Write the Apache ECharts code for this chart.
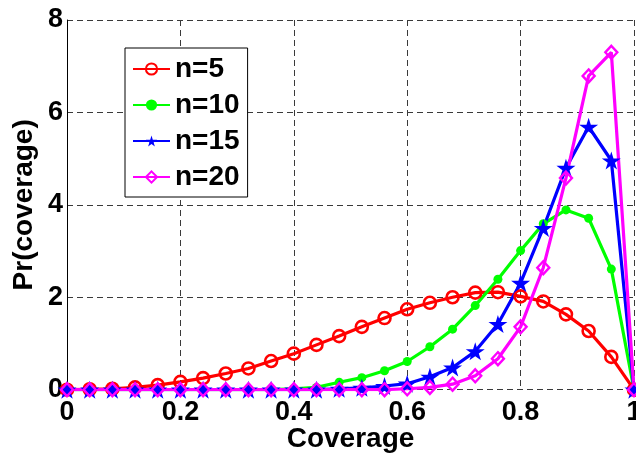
<!DOCTYPE html>
<html>
<head>
<meta charset="utf-8">
<script src="https://cdn.jsdelivr.net/npm/echarts@6/dist/echarts.min.js"></script>
<style>
  html, body { margin: 0; padding: 0; background: #fff; }
  #chart { width: 636px; height: 455px; }
</style>
</head>
<body>
<div id="chart"></div>
<script>
// Coverage grid (x) and probability density for each group size n
const coverage = [0, 0.04, 0.08, 0.12, 0.16, 0.20, 0.24, 0.28, 0.32, 0.36, 0.40, 0.44, 0.48,
                  0.52, 0.56, 0.60, 0.64, 0.68, 0.72, 0.76, 0.80, 0.84, 0.88, 0.92, 0.96, 1.00];
const prN5  = [0, 0.01, 0.02, 0.05, 0.10, 0.17, 0.25, 0.35, 0.46, 0.62, 0.78, 0.97, 1.16,
               1.36, 1.55, 1.74, 1.88, 2.00, 2.10, 2.11, 2.02, 1.91, 1.63, 1.27, 0.71, 0];
const prN10 = [0, 0, 0, 0, 0, 0, 0, 0, 0, 0, 0.02, 0.05, 0.16,
               0.26, 0.41, 0.61, 0.93, 1.31, 1.82, 2.39, 3.01, 3.59, 3.89, 3.71, 2.61, 0];
const prN15 = [0, 0, 0, 0, 0, 0, 0, 0, 0, 0, 0, 0, 0.02,
               0.04, 0.08, 0.13, 0.28, 0.48, 0.83, 1.42, 2.31, 3.50, 4.80, 5.69, 4.96, 0];
const prN20 = [0, 0, 0, 0, 0, 0, 0, 0, 0, 0, 0, 0, 0,
               0, 0, 0.02, 0.05, 0.12, 0.30, 0.67, 1.36, 2.64, 4.58, 6.79, 7.30, 0];
const seriesNames = ['n=5', 'n=10', 'n=15', 'n=20'];

const FONT = 'Liberation Sans, Arial, Helvetica, sans-serif';
const STAR = 'path://M50,0L61,35L98,35L68,57L79,91L50,70L21,91L32,57L2,35L39,35Z';

const pairs = ys => coverage.map((x, i) => [x, ys[i]]);

const gridLine = { show: true, lineStyle: { color: '#3a3a3a', width: 1, type: [6, 4] } };

const chart = echarts.init(document.getElementById('chart'), null, { renderer: 'canvas' });
chart.setOption({
  animation: false,
  backgroundColor: '#fff',
  grid: { left: 67, right: 2, top: 20, bottom: 65.3, containLabel: false, outerBoundsMode: 'none' },
  xAxis: {
    type: 'value', min: 0, max: 1, interval: 0.2,
    name: 'Coverage', nameLocation: 'middle', nameGap: 36, nameMoveOverlap: false,
    nameTextStyle: { fontFamily: FONT, fontWeight: 'bold', fontSize: 28, color: '#000' },
    axisLine: { show: false },
    axisTick: { show: false },
    axisLabel: { margin: 9, fontFamily: FONT, fontWeight: 'bold', fontSize: 27, color: '#000' },
    splitLine: gridLine
  },
  yAxis: {
    type: 'value', min: 0, max: 8, interval: 2,
    name: 'Pr(coverage)', nameLocation: 'middle', nameGap: 29, nameRotate: 90, nameMoveOverlap: false,
    nameTextStyle: { fontFamily: FONT, fontWeight: 'bold', fontSize: 28, color: '#000' },
    axisLine: { show: true, lineStyle: { color: '#000', width: 1 } },
    axisTick: { show: false },
    axisLabel: { margin: 4, fontFamily: FONT, fontWeight: 'bold', fontSize: 27, color: '#000' },
    splitLine: gridLine
  },
  legend: {
    orient: 'vertical', left: 125, top: 48,
    padding: [7, 8, 6, 7], itemGap: 8, itemWidth: 37, itemHeight: 14,
    backgroundColor: '#fff', borderColor: '#000', borderWidth: 1,
    textStyle: { fontFamily: FONT, fontWeight: 'bold', fontSize: 28, color: '#000' },
    data: seriesNames
  },
  series: [
    {
      name: seriesNames[0], type: 'line', data: pairs(prN5),
      color: '#ff0000',
      lineStyle: { color: '#ff0000', width: 3.2 },
      symbol: 'circle', symbolSize: 12,
      itemStyle: { color: 'rgba(255,255,255,0)', borderColor: '#ff0000', borderWidth: 2.6 }
    },
    {
      name: seriesNames[1], type: 'line', data: pairs(prN10),
      color: '#00ff00',
      lineStyle: { color: '#00ff00', width: 3.2 },
      symbol: 'circle', symbolSize: 9,
      itemStyle: { color: '#00ff00' }
    },
    {
      name: seriesNames[2], type: 'line', data: pairs(prN15),
      color: '#0000ff',
      lineStyle: { color: '#0000ff', width: 3.2 },
      symbol: STAR, symbolSize: 19, symbolKeepAspect: true,
      itemStyle: { color: '#0000ff' }
    },
    {
      name: seriesNames[3], type: 'line', data: pairs(prN20),
      color: '#ff00ff',
      lineStyle: { color: '#ff00ff', width: 3.2 },
      symbol: 'diamond', symbolSize: [12, 13],
      itemStyle: { color: 'rgba(255,255,255,0)', borderColor: '#ff00ff', borderWidth: 2.4 }
    }
  ]
});
</script>
</body>
</html>
